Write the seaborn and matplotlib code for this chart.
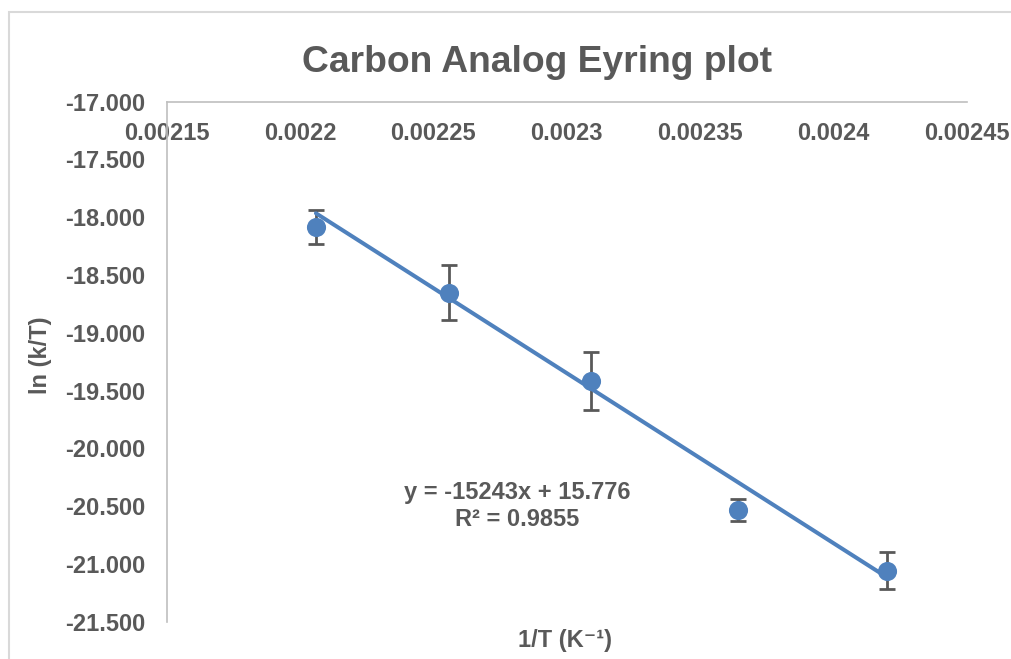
import numpy as np
import pandas as pd
import matplotlib
matplotlib.use("Agg")
import matplotlib.pyplot as plt
import seaborn as sns
from matplotlib.patches import Rectangle

# ---- data ----
inv_T = [0.002206, 0.002256, 0.002309, 0.002364, 0.002420]
ln_kT = [-18.084, -18.653, -19.417, -20.533, -21.057]
err = [0.147, 0.238, 0.255, 0.093, 0.164]

# trendline as drawn in the picture
trend_slope = -14720
trend_intercept = 14.507

x_ticks = [0.00215, 0.0022, 0.00225, 0.0023, 0.00235, 0.0024, 0.00245]
x_tick_labels = ["0.00215", "0.0022", "0.00225", "0.0023", "0.00235", "0.0024", "0.00245"]
y_ticks = [-17.0, -17.5, -18.0, -18.5, -19.0, -19.5, -20.0, -20.5, -21.0, -21.5]

title = "Carbon Analog Eyring plot"
x_label = "1/T (K\u207b\u00b9)"
y_label = "ln (k/T)"
eq_text = "y = -15243x + 15.776"
r2_text = "R\u00b2 = 0.9855"

# ---- style ----
sns.set_theme(style="white")
plt.rcParams["font.family"] = ["Liberation Sans", "DejaVu Sans"]
plt.rcParams["font.weight"] = "bold"

BLUE = "#4F81BD"
GREY = "#595959"
SPINE = "#BFBFBF"

W, H = 1011, 659
fig = plt.figure(figsize=(W / 100, H / 100), dpi=100)
ax = fig.add_axes([166.5 / W, 1 - 621.7 / H, (967 - 166.5) / W, (621.7 - 101.7) / H])

df = pd.DataFrame({"x": inv_T, "y": ln_kT, "e": err})

# error bars
ax.errorbar(df["x"], df["y"], yerr=df["e"], fmt="none", ecolor=GREY,
            elinewidth=2.0, capsize=6, capthick=2.0, zorder=2)
# points
sns.scatterplot(data=df, x="x", y="y", ax=ax, s=190, color=BLUE,
                edgecolor=BLUE, linewidth=0, zorder=3)
# trendline
line_x = np.array([min(inv_T), max(inv_T)])
line_df = pd.DataFrame({"x": line_x, "y": trend_slope * line_x + trend_intercept})
sns.lineplot(data=line_df, x="x", y="y", ax=ax, color=BLUE, linewidth=2.9, zorder=4)

ax.set_xlim(x_ticks[0], x_ticks[-1])
ax.set_ylim(y_ticks[-1], y_ticks[0])
ax.set_xticks(x_ticks)
ax.set_xticklabels(x_tick_labels)
ax.set_yticks(y_ticks)
ax.set_yticklabels([f"{v:.3f}" for v in y_ticks])

ax.xaxis.tick_top()
ax.tick_params(axis="x", length=0, pad=-31, labelsize=17, labelcolor=GREY)
ax.tick_params(axis="y", length=0, pad=15.5, labelsize=17, labelcolor=GREY)
for lbl in ax.get_xticklabels() + ax.get_yticklabels():
    lbl.set_fontweight("bold")

for side in ["bottom", "right"]:
    ax.spines[side].set_visible(False)
for side in ["left", "top"]:
    ax.spines[side].set_color(SPINE)
    ax.spines[side].set_linewidth(1.2)

ax.set_xlabel("")
ax.set_ylabel("")

# titles and labels (figure coordinates)
fig.text(537.5 / W, 1 - 63 / H, title, ha="center", va="center",
         fontsize=26.8, fontweight="bold", color=GREY)
fig.text(565 / W, 1 - 640 / H, x_label, ha="center", va="center",
         fontsize=17, fontweight="bold", color=GREY,
         family=["Liberation Sans", "DejaVu Sans"])
fig.text(40 / W, 1 - 355 / H, y_label, ha="center", va="center", rotation=90,
         fontsize=17, fontweight="bold", color=GREY)

# trendline equation
ax.text(517 / W, 1 - 492 / H, eq_text, transform=fig.transFigure, ha="center",
        va="center", fontsize=17, fontweight="bold", color=GREY)
ax.text(517 / W, 1 - 520 / H, r2_text, transform=fig.transFigure, ha="center",
        va="center", fontsize=17, fontweight="bold", color=GREY)

# chart-area frame (partly cut off at right and bottom)
fig.patches.append(Rectangle((8.5 / W, -0.1), 1.2, 1 - 11.5 / H + 0.1,
                             transform=fig.transFigure, fill=False,
                             edgecolor="#D9D9D9", linewidth=1.5, zorder=0))

fig.savefig("out.png", dpi=100)
